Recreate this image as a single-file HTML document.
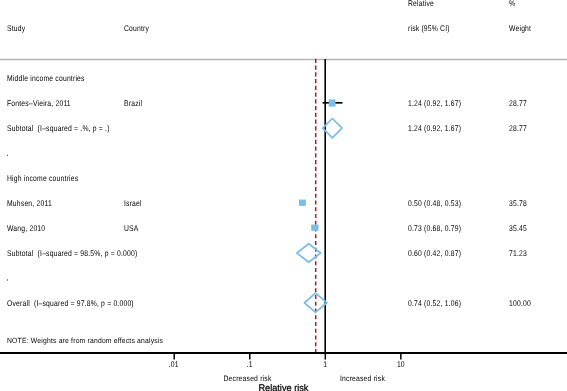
<!DOCTYPE html>
<html><head><meta charset="utf-8"><style>
html,body{margin:0;padding:0;background:#fff;width:567px;height:391px;overflow:hidden}
svg{display:block;will-change:transform}
text{font-family:"Liberation Sans",sans-serif;white-space:pre;text-rendering:geometricPrecision}
</style></head><body>
<svg width="567" height="391" viewBox="0 0 567 391">
<rect width="567" height="391" fill="#fff"/>
<rect x="7" y="154.8" width="1" height="1.2" fill="#555"/>
<rect x="7" y="279" width="1" height="1.9" fill="#888"/>
<rect x="0" y="58.75" width="567" height="1.5" fill="#b4b4b4"/>
<line x1="315.7" y1="58.855" x2="315.7" y2="353" stroke="#9a1f30" stroke-width="1.5" stroke-dasharray="4.1 2.645"/>
<line x1="325.2" y1="59" x2="325.2" y2="353" stroke="#000" stroke-width="1.6"/>
<line x1="0" y1="353" x2="567" y2="353" stroke="#000" stroke-width="1.9"/>
<line x1="174.20" y1="353" x2="174.20" y2="359.6" stroke="#000" stroke-width="1.5"/>
<line x1="249.75" y1="353" x2="249.75" y2="359.6" stroke="#000" stroke-width="1.5"/>
<line x1="325.30" y1="353" x2="325.30" y2="359.6" stroke="#000" stroke-width="1.5"/>
<line x1="400.85" y1="353" x2="400.85" y2="359.6" stroke="#000" stroke-width="1.5"/>
<line x1="322.56" y1="102.8" x2="342.48" y2="102.8" stroke="#000" stroke-width="1.7"/>
<rect x="328.75" y="99.45" width="6.8" height="7.2" fill="#7dbde9"/>
<line x1="301.22" y1="202.7" x2="304.47" y2="202.7" stroke="#000" stroke-width="1.7"/>
<rect x="298.90" y="199.55" width="7.0" height="6.3" fill="#7dbde9"/>
<line x1="312.65" y1="227.7" x2="317.57" y2="227.7" stroke="#000" stroke-width="1.7"/>
<rect x="311.20" y="224.55" width="7.3" height="6.3" fill="#7dbde9"/>
<path d="M322.7 128.2 L332.36 118.50 L342.0 128.2 L332.36 137.90 Z" fill="none" stroke="#7dbde9" stroke-width="1.75" stroke-linejoin="round"/>
<path d="M296.9 253.0 L308.7 243.75 L320.6 253.0 L308.7 262.25 Z" fill="none" stroke="#7dbde9" stroke-width="1.75" stroke-linejoin="round"/>
<path d="M304.4 302.75 L315.5 293.15 L326.9 302.75 L315.5 312.35 Z" fill="none" stroke="#7dbde9" stroke-width="1.75" stroke-linejoin="round"/>
<text transform="matrix(1 0 0 1.2176 408 6.0)" font-size="6.8" text-anchor="start" fill="#000" letter-spacing="0.19">Relative</text>
<text transform="matrix(1 0 0 1.2176 509 6.0)" font-size="6.8" text-anchor="start" fill="#000" letter-spacing="0.19">%</text>
<text transform="matrix(1 0 0 1.2176 7 30.8)" font-size="6.8" text-anchor="start" fill="#000" letter-spacing="0.19">Study</text>
<text transform="matrix(1 0 0 1.2176 124 30.8)" font-size="6.8" text-anchor="start" fill="#000" letter-spacing="0.19">Country</text>
<text transform="matrix(1 0 0 1.2176 408 30.8)" font-size="6.8" text-anchor="start" fill="#000" letter-spacing="0.19">risk (95% CI)</text>
<text transform="matrix(1 0 0 1.2176 509 30.8)" font-size="6.8" text-anchor="start" fill="#000" letter-spacing="0.19">Weight</text>
<text transform="matrix(1 0 0 1.2176 7 80.9)" font-size="6.8" text-anchor="start" fill="#000" letter-spacing="0.19">Middle income countries</text>
<text transform="matrix(1 0 0 1.2176 7 105.9)" font-size="6.8" text-anchor="start" fill="#000" letter-spacing="0.19">Fontes&#8211;Vieira, 2011</text>
<text transform="matrix(1 0 0 1.2176 124 105.9)" font-size="6.8" text-anchor="start" fill="#000" letter-spacing="0.19">Brazil</text>
<text transform="matrix(1 0 0 1.2176 408 105.9)" font-size="6.8" text-anchor="start" fill="#000" letter-spacing="0.19">1.24 (0.92, 1.67)</text>
<text transform="matrix(1 0 0 1.2176 509 105.9)" font-size="6.8" text-anchor="start" fill="#000" letter-spacing="0.19">28.77</text>
<text transform="matrix(1 0 0 1.2176 7 130.9)" font-size="6.8" text-anchor="start" fill="#000" letter-spacing="0.19">Subtotal  (I&#8211;squared = .%, p = .)</text>
<text transform="matrix(1 0 0 1.2176 408 130.9)" font-size="6.8" text-anchor="start" fill="#000" letter-spacing="0.19">1.24 (0.92, 1.67)</text>
<text transform="matrix(1 0 0 1.2176 509 130.9)" font-size="6.8" text-anchor="start" fill="#000" letter-spacing="0.19">28.77</text>
<text transform="matrix(1 0 0 1.2176 7 180.95)" font-size="6.8" text-anchor="start" fill="#000" letter-spacing="0.19">High income countries</text>
<text transform="matrix(1 0 0 1.2176 7 205.9)" font-size="6.8" text-anchor="start" fill="#000" letter-spacing="0.19">Muhsen, 2011</text>
<text transform="matrix(1 0 0 1.2176 124 205.9)" font-size="6.8" text-anchor="start" fill="#000" letter-spacing="0.19">Israel</text>
<text transform="matrix(1 0 0 1.2176 408 205.9)" font-size="6.8" text-anchor="start" fill="#000" letter-spacing="0.19">0.50 (0.48, 0.53)</text>
<text transform="matrix(1 0 0 1.2176 509 205.9)" font-size="6.8" text-anchor="start" fill="#000" letter-spacing="0.19">35.78</text>
<text transform="matrix(1 0 0 1.2176 7 230.9)" font-size="6.8" text-anchor="start" fill="#000" letter-spacing="0.19">Wang, 2010</text>
<text transform="matrix(1 0 0 1.2176 124 230.9)" font-size="6.8" text-anchor="start" fill="#000" letter-spacing="0.19">USA</text>
<text transform="matrix(1 0 0 1.2176 408 230.9)" font-size="6.8" text-anchor="start" fill="#000" letter-spacing="0.19">0.73 (0.68, 0.79)</text>
<text transform="matrix(1 0 0 1.2176 509 230.9)" font-size="6.8" text-anchor="start" fill="#000" letter-spacing="0.19">35.45</text>
<text transform="matrix(1 0 0 1.2176 7 255.9)" font-size="6.8" text-anchor="start" fill="#000" letter-spacing="0.19">Subtotal  (I&#8211;squared = 98.5%, p = 0.000)</text>
<text transform="matrix(1 0 0 1.2176 408 255.9)" font-size="6.8" text-anchor="start" fill="#000" letter-spacing="0.19">0.60 (0.42, 0.87)</text>
<text transform="matrix(1 0 0 1.2176 509 255.9)" font-size="6.8" text-anchor="start" fill="#000" letter-spacing="0.19">71.23</text>
<text transform="matrix(1 0 0 1.2176 7 305.8)" font-size="6.8" text-anchor="start" fill="#000" letter-spacing="0.19">Overall  (I&#8211;squared = 97.8%, p = 0.000)</text>
<text transform="matrix(1 0 0 1.2176 408 305.8)" font-size="6.8" text-anchor="start" fill="#000" letter-spacing="0.19">0.74 (0.52, 1.06)</text>
<text transform="matrix(1 0 0 1.2176 509 305.8)" font-size="6.8" text-anchor="start" fill="#000" letter-spacing="0.19">100.00</text>
<text transform="matrix(1 0 0 1.1118 7 343.0)" font-size="6.8" text-anchor="start" fill="#000" letter-spacing="0.19">NOTE: Weights are from random effects analysis</text>
<text transform="matrix(1 0 0 1.2176 173.7 367.3)" font-size="6.8" text-anchor="middle" fill="#000" letter-spacing="0.19">.01</text>
<text transform="matrix(1 0 0 1.2176 249.75 367.3)" font-size="6.8" text-anchor="middle" fill="#000" letter-spacing="0.19">.1</text>
<text transform="matrix(1 0 0 1.2176 325.3 367.3)" font-size="6.8" text-anchor="middle" fill="#000" letter-spacing="0.19">1</text>
<text transform="matrix(1 0 0 1.2176 400.85 367.3)" font-size="6.8" text-anchor="middle" fill="#000" letter-spacing="0.19">10</text>
<text transform="matrix(1 0 0 1.1647 223.5 380.8)" font-size="6.8" text-anchor="start" fill="#000" letter-spacing="0.19">Decreased risk</text>
<text transform="matrix(1 0 0 1.1647 340 380.8)" font-size="6.8" text-anchor="start" fill="#000" letter-spacing="0.19">Increased risk</text>
<text transform="matrix(1 0 0 1.0500 258.4 391.4)" font-size="9.2" text-anchor="start" fill="#000" stroke="#000" stroke-width="0.22">Relative risk</text>
</svg>
</body></html>
